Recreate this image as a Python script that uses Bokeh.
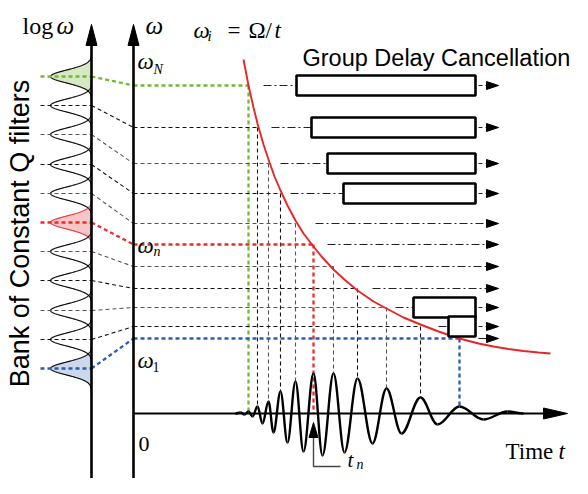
import numpy as np
from bokeh.plotting import figure
from bokeh.models import Range1d
from bokeh.embed import file_html
from bokeh.resources import INLINE
from bokeh.core.properties import value

# ---- values
# t: time to the right of the omega axis, w: height above the time axis
log_levels = [337, 308, 279, 249, 220, 191, 162, 133, 103, 74, 45]   # filter centres on log-omega axis
lin_levels = [328, 286, 250, 220, 190, 169, 147, 125, 106, 87, 75]   # same filters on omega axis
t_cross = [115, 124, 135, 147, 162, 180, 200, 224, 253, 287, 326]    # where omega_i meets Omega/t
drop_end = [0, 7, 12, 22, 32, 0, 40, 35, 25, 16, 7]                 # where each drop line stops
band_line = ["#74b835", None, None, None, None, "#ec2b2b", None, None, None, None, "#2c5cb4"]
band_fill = ["#d5eac2", None, None, None, None, "#f8c6c6", None, None, None, None, "#cbd8ee"]

# omega = Omega / t curve
curve_t = [110, 115, 120, 124, 130, 135, 141, 147, 154, 162, 170, 180, 188, 200, 212,
           224, 240, 253, 270, 287, 305, 326, 345, 360, 375, 390, 405, 417]
curve_w = [354, 328, 306, 290, 269, 254, 237, 223, 208, 193, 180, 167, 157, 144, 133,
           123, 112, 105, 96, 89, 82, 75, 70, 67, 64.5, 62.5, 61, 60]

# extrema of the chirp signal
wave_t = [102, 107, 111, 115, 119, 124, 129, 135, 140, 147, 154, 162, 170, 180, 189, 200,
          211, 224, 239, 253, 268, 287, 304, 326, 350, 374, 390]
wave_a = [0, 1, -1, 2, -3, 7, -10, 12, -19, 22, -29, 32, -38, 40, -42, 40,
          -39, 35, -30, 25, -20, 16, -11, 7, -6, 2, 0]

# group delay cancellation rows
gdc_start = [130, 138, 147, 157, 182, 194, 212, 239, 262, 305, 345]
gdc_box = [163, 178, 194, 210, None, None, None, None, 280, 315, None]
gdc_end = 342
gdc_tip = 365
t_n = 180

# ---- figure
p = figure(width=572, height=478, x_range=Range1d(-133, 439), y_range=Range1d(-65, 413),
           output_backend="svg", toolbar_location=None, min_border=0,
           x_axis_location=None, y_axis_location=None)
p.grid.visible = False
p.outline_line_color = None
p.background_fill_color = "white"
p.border_fill_color = "white"

LOG_X = -42
AMP = 41
SIG = 6.5
SERIF = value("Liberation Serif")
SANS = value("Liberation Sans")


def txt(x, y, s, size, font=SERIF, style="normal", align="left", angle=0):
    px = float(size.replace("px", ""))
    if angle == 0:
        y = y + 0.28 * px
    else:
        x = x - 0.28 * px
    p.text(x=[x], y=[y], text=[s], text_font=font, text_font_size=size, text_font_style=style,
           text_align=align, text_baseline="alphabetic", angle=angle, text_color="black")


def tri(tip, direction, length, half):
    x, y = tip
    if direction == "up":
        return [x, x - half, x + half], [y, y - length, y - length]
    return [x, x - length, x - length], [y, y + half, y - half]


# ---- filter bank gaussians
for i, c in enumerate(log_levels):
    vv = np.linspace(c - 28, c + 28, 141)
    xx = LOG_X - AMP * np.exp(-((vv - c) ** 2) / (2 * SIG ** 2))
    if band_fill[i]:
        p.patch(list(xx) + [LOG_X, LOG_X], list(vv) + [vv[-1], vv[0]],
                fill_color=band_fill[i], line_color=None)
for i, c in enumerate(log_levels):
    vv = np.linspace(c - 28, c + 28, 141)
    xx = LOG_X - AMP * np.exp(-((vv - c) ** 2) / (2 * SIG ** 2))
    oc = "#e24646" if i == 5 else "#111111"
    p.line(xx, vv, line_color=oc, line_width=1.2)

# ---- dashed guide lines
for i in range(len(log_levels)):
    col = band_line[i]
    if col:
        kw = dict(line_color=col, line_width=2.3, line_dash="4 3")
    else:
        kw = dict(line_color="#111111" if i % 2 else "#555555", line_width=1.1, line_dash="4 3")
    p.segment(x0=[-93], y0=[log_levels[i]], x1=[LOG_X], y1=[log_levels[i]], **kw)
    p.segment(x0=[LOG_X], y0=[log_levels[i]], x1=[0], y1=[lin_levels[i]], **kw)
    p.segment(x0=[0], y0=[lin_levels[i]], x1=[t_cross[i]], y1=[lin_levels[i]], **kw)
    p.segment(x0=[t_cross[i]], y0=[lin_levels[i]], x1=[t_cross[i]], y1=[drop_end[i]], **kw)

# ---- axes
p.line([LOG_X, LOG_X], [-90, 370], line_color="black", line_width=2.6)
p.line([0, 0], [-90, 370], line_color="black", line_width=2.6)
p.line([0, 412], [0, 0], line_color="black", line_width=2.2)
ax_tris = [tri((LOG_X, 389), "up", 21, 5.5), tri((0, 389), "up", 21, 5.5), tri((434, 0), "right", 24, 5.5)]
p.patches([a[0] for a in ax_tris], [a[1] for a in ax_tris], fill_color="black", line_color="black")

# ---- red curve
p.line(curve_t, curve_w, line_color="#e8262a", line_width=1.9)

# ---- chirp signal drawn as bezier pieces between extrema
k = 0.36
x0s, y0s, x1s, y1s, cx0, cy0, cx1, cy1 = [], [], [], [], [], [], [], []
for j in range(len(wave_t) - 1):
    ta, tb = wave_t[j], wave_t[j + 1]
    aa, ab = wave_a[j], wave_a[j + 1]
    d = tb - ta
    x0s.append(ta); y0s.append(aa); x1s.append(tb); y1s.append(ab)
    cx0.append(ta + k * d); cy0.append(aa); cx1.append(tb - k * d); cy1.append(ab)
p.bezier(x0=x0s, y0=y0s, x1=x1s, y1=y1s, cx0=cx0, cy0=cy0, cx1=cx1, cy1=cy1,
         line_color="black", line_width=2.4)

# ---- group delay cancellation
heads = []
for i, lv in enumerate(lin_levels):
    if gdc_box[i] is not None:
        p.segment(x0=[gdc_start[i]], y0=[lv], x1=[gdc_box[i]], y1=[lv],
                  line_color="#222222", line_width=1.1, line_dash="8 3 2 3")
        p.segment(x0=[gdc_end + 3], y0=[lv], x1=[gdc_tip - 11], y1=[lv],
                  line_color="#222222", line_width=1.1, line_dash="4 3")
    else:
        p.segment(x0=[gdc_start[i]], y0=[lv], x1=[gdc_tip - 11], y1=[lv],
                  line_color="#222222", line_width=1.1, line_dash="8 3 2 3")
    heads.append(tri((gdc_tip, lv), "right", 12, 4))
p.patches([h[0] for h in heads], [h[1] for h in heads], fill_color="black", line_color="black")
bl = [b for b in gdc_box if b is not None]
bv = [lin_levels[i] for i, b in enumerate(gdc_box) if b is not None]
p.quad(left=bl, right=[gdc_end] * len(bl), top=[v + 10 for v in bv], bottom=[v - 10 for v in bv],
       fill_color="white", line_color="black", line_width=2.6)

# ---- t_n marker
p.line([t_n, t_n, t_n + 27], [-24, -53, -53], line_color="#444444", line_width=1.4)
tn = tri((t_n, -9), "up", 15, 4.5)
p.patch(tn[0], tn[1], fill_color="black", line_color="black")

# ---- texts
txt(-111, 381, "log", "24px")
txt(-77, 381, "ω", "25px", style="italic")
txt(12, 381, "ω", "25px", style="italic")
txt(60, 377, "ω", "23px", style="italic")
txt(74, 373, "i", "15px", style="italic")
txt(94, 377, "=", "23px")
txt(115, 377, "Ω", "23px")
txt(132, 377, "/", "23px")
txt(141, 377, "t", "23px", style="italic")
txt(4, 346, "ω", "23px", style="italic")
txt(20, 340, "N", "14px", style="italic")
txt(4, 162, "ω", "23px", style="italic")
txt(20, 158, "n", "14px", style="italic")
txt(4, 47, "ω", "23px", style="italic")
txt(19, 43, "1", "14px")
txt(5, -37, "0", "22px")
txt(372, -44, "Time", "23px")
txt(425, -44, "t", "23px", style="italic")
txt(214, -52, "t", "21px", style="italic")
txt(223, -55, "n", "14px", style="italic")
txt(169, 349, "Group Delay Cancellation", "23.5px", font=SANS)
txt(-106, 180, "Bank of Constant Q filters", "27px", font=SANS, align="center", angle=np.pi / 2)

open("out.html", "w").write(file_html(p, INLINE))
